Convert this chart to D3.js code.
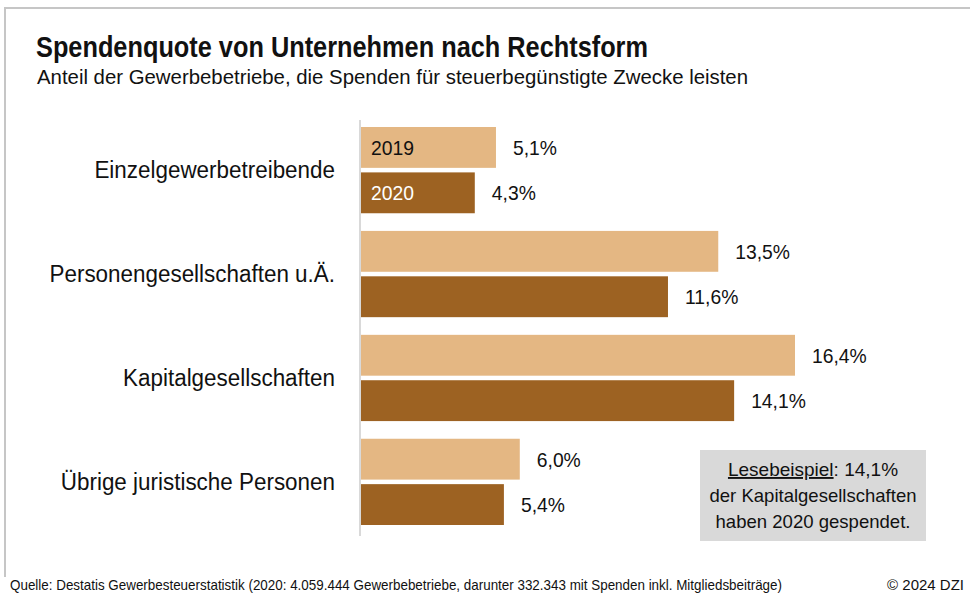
<!DOCTYPE html>
<html>
<head>
<meta charset="utf-8">
<script src="https://cdn.jsdelivr.net/npm/d3@7"></script>
<style>
  body { margin: 0; background: #fff; }
  text { font-family: "Liberation Sans", Arial, sans-serif; fill: #111; }
</style>
</head>
<body>
<div id="chart"></div>
<script>
var categories = ["Einzelgewerbetreibende", "Personengesellschaften u.Ä.", "Kapitalgesellschaften", "Übrige juristische Personen"];
var years = ["2019", "2020"];
var values2019 = [5.1, 13.5, 16.4, 6.0];
var values2020 = [4.3, 11.6, 14.1, 5.4];

var colors = ["#E4B783", "#9D6222"];

var width = 970, height = 594;

var de = d3.formatLocale({ decimal: ",", thousands: ".", grouping: [3], currency: ["", " €"] });
var fmt = de.format(".1f");

var rows = categories.map(function(c, i) {
    return { cat: c, vals: [values2019[i], values2020[i]] };
});

var svg = d3.select("#chart").append("svg")
    .attr("width", width)
    .attr("height", height);

// squeeze a text a bit so it looks like the condensed original
function condense(k) {
    return function() {
        var w = this.getComputedTextLength();
        d3.select(this).attr("textLength", w * k).attr("lengthAdjust", "spacingAndGlyphs");
    };
}

// frame
svg.append("path")
    .attr("d", "M5,577 L5,8 L970,8")
    .attr("fill", "none")
    .attr("stroke", "#c6c6c6")
    .attr("stroke-width", 2);

// titles
svg.append("text")
    .attr("x", 36).attr("y", 57)
    .style("font-size", "29px").style("font-weight", "bold")
    .attr("textLength", 612).attr("lengthAdjust", "spacingAndGlyphs")
    .text("Spendenquote von Unternehmen nach Rechtsform");

svg.append("text")
    .attr("x", 37).attr("y", 84)
    .style("font-size", "20px")
    .attr("textLength", 711).attr("lengthAdjust", "spacingAndGlyphs")
    .text("Anteil der Gewerbebetriebe, die Spenden für steuerbegünstigte Zwecke leisten");

// scales
var x = d3.scaleLinear().domain([0, 16.4]).range([361, 795]);
var y = d3.scaleBand().domain(categories).range([127, 525]).paddingInner(0.17).paddingOuter(0);
var y1 = d3.scaleBand().domain(years).range([0, y.bandwidth()]).paddingInner(0.1);

// axis line
svg.append("line")
    .attr("x1", 360).attr("x2", 360)
    .attr("y1", 120).attr("y2", 536)
    .attr("stroke", "#d9d9d9")
    .attr("stroke-width", 2);

var groups = svg.selectAll("g.group")
    .data(rows)
    .enter().append("g")
    .attr("class", "group")
    .attr("transform", function(d) { return "translate(0," + y(d.cat) + ")"; });

groups.append("text")
    .attr("x", 335)
    .attr("y", y.bandwidth() / 2)
    .attr("dy", ".35em")
    .attr("text-anchor", "end")
    .style("font-size", "23px")
    .text(function(d) { return d.cat; })
    .each(condense(0.975));

var bars = groups.selectAll("g.bar")
    .data(function(d) {
        return d.vals.map(function(v, i) { return { year: years[i], v: v, i: i }; });
    })
    .enter().append("g")
    .attr("class", "bar");

bars.append("rect")
    .attr("x", x(0))
    .attr("y", function(d) { return y1(d.year); })
    .attr("width", function(d) { return x(d.v) - x(0); })
    .attr("height", y1.bandwidth())
    .attr("fill", function(d) { return colors[d.i]; });

bars.append("text")
    .attr("x", function(d) { return x(d.v) + 17; })
    .attr("y", function(d) { return y1(d.year) + y1.bandwidth() / 2; })
    .attr("dy", ".35em")
    .style("font-size", "21px")
    .text(function(d) { return fmt(d.v) + "%"; })
    .each(condense(0.92));

// year labels inside the first group's bars
groups.filter(function(d, i) { return i === 0; })
    .selectAll("text.year")
    .data(years)
    .enter().append("text")
    .attr("class", "year")
    .attr("x", 371)
    .attr("y", function(d) { return y1(d) + y1.bandwidth() / 2; })
    .attr("dy", ".35em")
    .style("font-size", "21px")
    .style("fill", function(d, i) { return i === 0 ? "#111" : "#fff"; })
    .text(function(d) { return d; })
    .each(condense(0.92));

// reading example box
var box = svg.append("g");
box.append("rect")
    .attr("x", 700).attr("y", 450)
    .attr("width", 226).attr("height", 91)
    .attr("fill", "#d9d9d9");

var t1 = box.append("text")
    .attr("x", 813).attr("y", 476)
    .attr("text-anchor", "middle")
    .style("font-size", "19px");
t1.append("tspan").style("text-decoration", "underline").text("Lesebeispiel");
t1.append("tspan").text(": 14,1%");

box.append("text")
    .attr("x", 813).attr("y", 502)
    .attr("text-anchor", "middle")
    .style("font-size", "19px")
    .attr("textLength", 207).attr("lengthAdjust", "spacingAndGlyphs")
    .text("der Kapitalgesellschaften");

box.append("text")
    .attr("x", 813).attr("y", 528)
    .attr("text-anchor", "middle")
    .style("font-size", "19px")
    .attr("textLength", 195).attr("lengthAdjust", "spacingAndGlyphs")
    .text("haben 2020 gespendet.");

// footer
svg.append("text")
    .attr("x", 10).attr("y", 590)
    .style("font-size", "15px")
    .attr("textLength", 772).attr("lengthAdjust", "spacingAndGlyphs")
    .text("Quelle: Destatis Gewerbesteuerstatistik (2020: 4.059.444 Gewerbebetriebe, darunter 332.343 mit Spenden inkl. Mitgliedsbeiträge)");

svg.append("text")
    .attr("x", 964).attr("y", 590)
    .attr("text-anchor", "end")
    .style("font-size", "15px")
    .text("© 2024 DZI");
</script>
</body>
</html>
